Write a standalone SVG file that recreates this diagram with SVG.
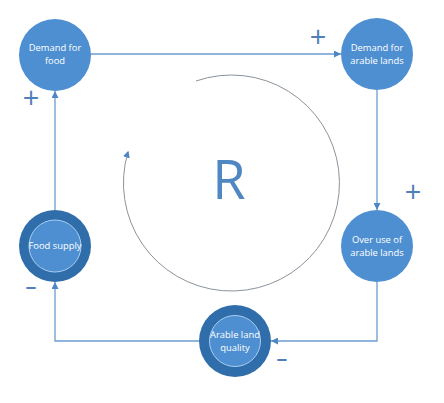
<svg xmlns="http://www.w3.org/2000/svg" width="444" height="403" viewBox="0 0 444 403">
<style>
.node{fill:#4e8fd1;}
.ring{fill:#2f6eab;}
.inner{fill:#4e8fd1;stroke:#a9cdf0;stroke-width:1;}
.lbl{font-family:"Open Sans","Liberation Sans",sans-serif;font-size:9.4px;fill:#ffffff;text-anchor:middle;}
.conn{fill:none;stroke:#6b9dd2;stroke-width:1.3;}
.sign{font-family:"Open Sans","Liberation Sans",sans-serif;fill:#4f80b8;text-anchor:middle;}
.loop{fill:none;stroke:#8a939c;stroke-width:1;}
</style>
<defs>
<marker id="ah" viewBox="0 0 10 10" refX="10" refY="5" markerWidth="7" markerHeight="7" markerUnits="userSpaceOnUse" orient="auto"><path d="M0,0 L10,5 L0,10 z" fill="#4f86c4"/></marker>
<marker id="ah2" viewBox="0 0 10 10" refX="8" refY="5" markerWidth="7" markerHeight="7" markerUnits="userSpaceOnUse" orient="auto"><path d="M0,0 L10,5 L0,10 z" fill="#4f86c4"/></marker>
</defs>
<rect width="444" height="403" fill="#ffffff"/>
<g id="connectors">
<path class="conn" d="M91,54 H341" marker-end="url(#ah)"/>
<path class="conn" d="M377,90 V210" marker-end="url(#ah)"/>
<path class="conn" d="M377,282 V341 H271" marker-end="url(#ah)"/>
<path class="conn" d="M199,341 H55 V282" marker-end="url(#ah)"/>
<path class="conn" d="M55,210 V91" marker-end="url(#ah)"/>
</g>
<g id="loop">
<path class="loop" d="M196,81 A108,108 0 1 1 128,152" marker-end="url(#ah2)"/>
<text x="229" y="199" style="font-family:'Open Sans','Liberation Sans',sans-serif;font-size:54px;fill:#4f87c2;text-anchor:middle;">R</text>
</g>
<g id="node-demand-food">
<circle class="node" cx="55" cy="55" r="36"/>
<text class="lbl" x="55" y="51">Demand for</text>
<text class="lbl" x="55" y="64">food</text>
</g>
<g id="node-demand-arable">
<circle class="node" cx="377" cy="54" r="36"/>
<text class="lbl" x="377" y="51">Demand for</text>
<text class="lbl" x="377" y="64">arable lands</text>
</g>
<g id="node-overuse">
<circle class="node" cx="377" cy="246" r="36"/>
<text class="lbl" x="377" y="243">Over use of</text>
<text class="lbl" x="377" y="256">arable lands</text>
</g>
<g id="node-quality">
<circle class="ring" cx="235" cy="341" r="36"/>
<circle class="inner" cx="235" cy="341" r="25.5"/>
<text class="lbl" x="235" y="338">Arable land</text>
<text class="lbl" x="235" y="351">quality</text>
</g>
<g id="node-food-supply">
<circle class="ring" cx="55" cy="246" r="36"/>
<circle class="inner" cx="55" cy="246" r="26"/>
<text class="lbl" x="55" y="249">Food supply</text>
</g>
<g id="signs">
<text class="sign" x="318" y="47" font-size="29">+</text>
<text class="sign" x="31" y="108" font-size="29">+</text>
<text class="sign" x="413" y="202" font-size="29">+</text>
<text class="sign" x="31" y="295" font-size="19" font-weight="bold">−</text>
<text class="sign" x="282" y="367" font-size="19" font-weight="bold">−</text>
</g>
</svg>
